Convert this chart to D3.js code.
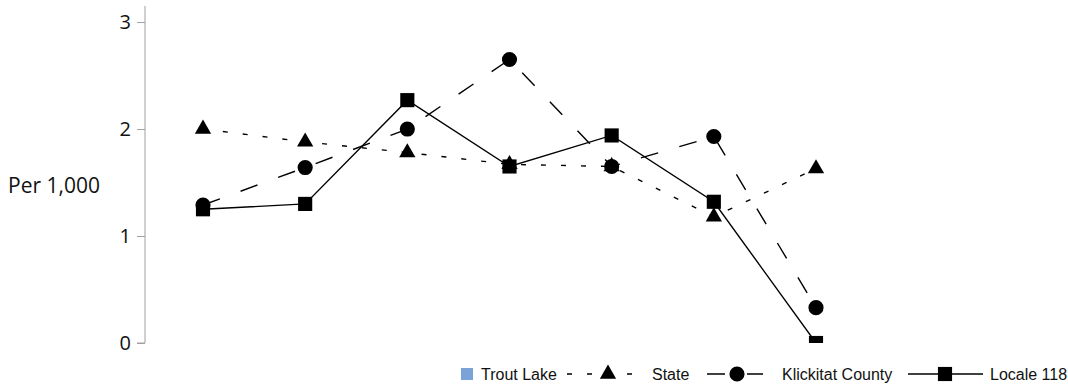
<!DOCTYPE html>
<html>
<head>
<meta charset="utf-8">
<script src="https://cdn.jsdelivr.net/npm/d3@7"></script>
<style>
  body { margin: 0; background: #fff; }
</style>
</head>
<body>
<div class="chart"></div>
<script>
// seven periods, no x labels on the original
const periods = ['p1', 'p2', 'p3', 'p4', 'p5', 'p6', 'p7'];
const stateValues = [2.00, 1.88, 1.78, 1.67, 1.65, 1.18, 1.63];
const klickitatValues = [1.29, 1.64, 2.00, 2.65, 1.65, 1.93, 0.33];
const localeValues = [1.25, 1.30, 2.27, 1.65, 1.94, 1.32, 0.00];
const yTicks = [0, 1, 2, 3];
const seriesNames = ['Trout Lake', 'State', 'Klickitat County', 'Locale 118'];

const width = 1068;
const height = 386;

const svg = d3.select('.chart')
  .append('svg')
    .attr('width', width)
    .attr('height', height);

const x = d3.scalePoint()
  .domain(periods)
  .range([203, 816]);

const y = d3.scaleLinear()
  .domain([0, 3.15])
  .range([343, 6]);

// y axis
const yAxis = svg.append('g')
  .attr('transform', 'translate(145,0)')
  .call(d3.axisLeft(y).tickValues(yTicks).tickSize(8).tickPadding(6).tickFormat(d3.format('d')));

yAxis.select('.domain').attr('stroke', '#a0a0a0').attr('d', `M0,${y.range()[1]}V${y(0)}H-8`);
yAxis.selectAll('.tick line').attr('stroke', '#a0a0a0');
yAxis.selectAll('.tick text')
  .attr('font-family', '"Open Sans", sans-serif')
  .attr('font-size', '20px')
  .attr('fill', '#111');

svg.append('text')
  .attr('x', 8)
  .attr('y', 193)
  .attr('font-family', '"Open Sans", sans-serif')
  .attr('font-size', '21px')
  .attr('fill', '#111')
  .text('Per 1,000');

svg.append('clipPath')
  .attr('id', 'plot-clip')
  .append('rect')
    .attr('x', 146)
    .attr('y', 0)
    .attr('width', width - 146)
    .attr('height', y(0));

const series = [
  {name: seriesNames[1], values: stateValues, dash: '5,15', symbol: d3.symbolTriangle, size: 115},
  {name: seriesNames[2], values: klickitatValues, dash: '18,22', symbol: d3.symbolCircle, size: 180},
  {name: seriesNames[3], values: localeValues, dash: null, symbol: d3.symbolSquare, size: 200}
];

const line = d3.line()
  .x((d, i) => x(periods[i]))
  .y(d => y(d));

const plot = svg.append('g').attr('clip-path', 'url(#plot-clip)');

series.forEach(s => {
  const g = plot.append('g');
  g.append('path')
    .datum(s.values)
    .attr('fill', 'none')
    .attr('stroke', '#000')
    .attr('stroke-width', 1.4)
    .attr('stroke-dasharray', s.dash)
    .attr('d', line);

  g.selectAll('path.marker')
    .data(s.values)
    .enter()
    .append('path')
      .attr('class', 'marker')
      .attr('transform', (d, i) => `translate(${x(periods[i])},${y(d)})`)
      .attr('d', d3.symbol().type(s.symbol).size(s.size))
      .attr('fill', '#000');
});

// legend
const legend = svg.append('g')
  .attr('font-family', '"Liberation Sans", Arial, sans-serif')
  .attr('font-size', '16px')
  .attr('fill', '#111');

const ly = 374;

legend.append('rect')
  .attr('x', 461).attr('y', ly - 6)
  .attr('width', 12).attr('height', 12)
  .attr('fill', '#7ba3d8');
legend.append('text').attr('x', 481).attr('y', ly + 6).text(seriesNames[0]);

const legendItems = [
  {s: series[0], x0: 567, x1: 642, cx: 608, tx: 652},
  {s: series[1], x0: 707, x1: 763, cx: 737, tx: 782},
  {s: series[2], x0: 908, x1: 983, cx: 945, tx: 990}
];

legendItems.forEach(it => {
  legend.append('line')
    .attr('x1', it.x0).attr('x2', it.x1)
    .attr('y1', ly).attr('y2', ly)
    .attr('stroke', '#000')
    .attr('stroke-width', 1.4)
    .attr('stroke-dasharray', it.s.dash);
  legend.append('path')
    .attr('transform', `translate(${it.cx},${ly})`)
    .attr('d', d3.symbol().type(it.s.symbol).size(it.s.size))
    .attr('fill', '#000');
  legend.append('text').attr('x', it.tx).attr('y', ly + 6).text(it.s.name);
});
</script>
</body>
</html>
